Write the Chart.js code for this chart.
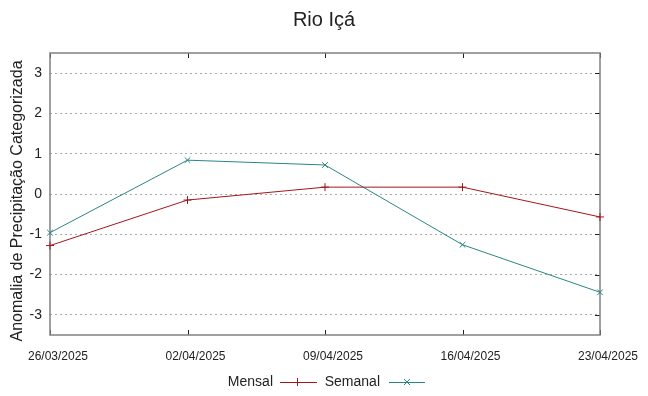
<!DOCTYPE html>
<html>
<head>
<meta charset="utf-8">
<script src="https://cdn.jsdelivr.net/npm/chart.js@4/dist/chart.umd.min.js"></script>
<style>
  html, body { margin: 0; padding: 0; background: #fff; }
  #wrap { width: 648px; height: 396px; }
</style>
</head>
<body>
<div id="wrap"><canvas id="rioChart" width="648" height="396"></canvas></div>
<script>
// Dates on the x axis
const dates = ['26/03/2025', '02/04/2025', '09/04/2025', '16/04/2025', '23/04/2025'];
// Anomaly series
const mensal = [-1.28, -0.15, 0.17, 0.17, -0.57];
const semanal = [-0.96, 0.84, 0.72, -1.26, -2.44];
// y tick values
const yTicks = [-3, -2, -1, 0, 1, 2, 3];

const red = '#a3161c';
const teal = '#2a8585';
const font = 'Liberation Sans';

// gnuplot style box, inward ticks, titles and bottom legend
const gnuplotFrame = {
  id: 'gnuplotFrame',
  beforeDatasetsDraw(chart) {
    const { ctx, chartArea: a, scales } = chart;
    ctx.save();
    ctx.strokeStyle = '#222';
    ctx.lineWidth = 1;
    ctx.beginPath();
    scales.x.ticks.forEach((t, i) => {
      const px = Math.round(scales.x.getPixelForTick(i)) + 0.5;
      ctx.moveTo(px, a.bottom); ctx.lineTo(px, a.bottom - 5);
      ctx.moveTo(px, a.top); ctx.lineTo(px, a.top + 5);
    });
    scales.y.ticks.forEach((t) => {
      const py = Math.round(scales.y.getPixelForValue(t.value)) + 0.5;
      ctx.moveTo(a.right, py); ctx.lineTo(a.right - 5, py);
    });
    ctx.stroke();
    ctx.strokeStyle = '#808080';
    ctx.lineWidth = 1.5;
    ctx.strokeRect(a.left, a.top, a.right - a.left, a.bottom - a.top);
    ctx.restore();
  },
  afterDraw(chart) {
    const { ctx } = chart;
    const cx = chart.width / 2;
    ctx.save();
    ctx.fillStyle = '#222';
    ctx.textBaseline = 'middle';
    // title
    ctx.font = '20px "' + font + '"';
    ctx.textAlign = 'center';
    ctx.fillText('Rio Içá', cx, 20);
    // y axis title
    ctx.save();
    ctx.translate(18, 201);
    ctx.rotate(-Math.PI / 2);
    ctx.font = '16px "' + font + '"';
    ctx.fillText('Anomalia de Precipitação Categorizada', 0, 0);
    ctx.restore();
    // legend
    const y = 382;
    ctx.font = '14px "' + font + '"';
    ctx.textAlign = 'right';
    ctx.fillText('Mensal', cx - 51, y);
    ctx.fillText('Semanal', cx + 56, y);
    ctx.lineWidth = 1;
    ctx.strokeStyle = red;
    ctx.beginPath();
    ctx.moveTo(cx - 44, y + 0.5); ctx.lineTo(cx - 7, y + 0.5);
    ctx.moveTo(cx - 26.5, y - 4); ctx.lineTo(cx - 26.5, y + 4);
    ctx.stroke();
    ctx.strokeStyle = teal;
    ctx.beginPath();
    ctx.moveTo(cx + 65, y + 0.5); ctx.lineTo(cx + 101, y + 0.5);
    ctx.moveTo(cx + 80, y - 3); ctx.lineTo(cx + 86, y + 3);
    ctx.moveTo(cx + 86, y - 3); ctx.lineTo(cx + 80, y + 3);
    ctx.stroke();
    ctx.restore();
  }
};

new Chart(document.getElementById('rioChart').getContext('2d'), {
  type: 'line',
  data: {
    labels: dates,
    datasets: [
      {
        label: 'Mensal',
        data: mensal,
        borderColor: red,
        backgroundColor: red,
        borderWidth: 1,
        pointStyle: 'cross',
        pointRadius: 4,
        pointBorderWidth: 1,
        tension: 0
      },
      {
        label: 'Semanal',
        data: semanal,
        borderColor: teal,
        backgroundColor: teal,
        borderWidth: 1,
        pointStyle: 'crossRot',
        pointRadius: 4,
        pointBorderWidth: 1,
        tension: 0
      }
    ]
  },
  plugins: [gnuplotFrame],
  options: {
    responsive: false,
    animation: false,
    layout: { padding: { left: 0, right: 48, top: 53, bottom: 0 } },
    plugins: {
      legend: { display: false },
      tooltip: { enabled: false },
      title: { display: false }
    },
    scales: {
      x: {
        type: 'category',
        offset: false,
        grid: { display: false, drawTicks: false },
        border: { display: false },
        ticks: {
          color: '#222',
          font: { family: font, size: 12 },
          padding: 14,
          labelOffset: 8,
          maxRotation: 0,
          autoSkip: false
        },
        afterFit(scale) { scale.height = 61; }
      },
      y: {
        min: -3.5,
        max: 3.5,
        afterBuildTicks(scale) { scale.ticks = yTicks.map(v => ({ value: v })); },
        grid: {
          color: '#a8a8a8',
          lineWidth: 1,
          drawTicks: false
        },
        border: { display: false, dash: [2, 3] },
        ticks: {
          color: '#222',
          font: { family: font, size: 14 },
          padding: 8
        },
        afterFit(scale) { scale.width = 50; }
      }
    }
  }
});
</script>
</body>
</html>
